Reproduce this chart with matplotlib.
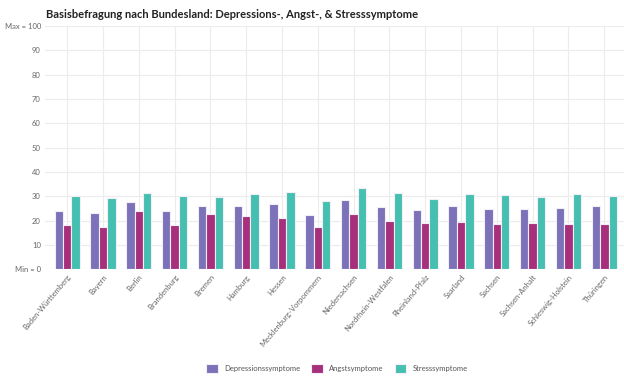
import matplotlib
matplotlib.use('Agg')
import matplotlib.pyplot as plt
import numpy as np

laender = ["Baden-Württemberg", "Bayern", "Berlin", "Brandenburg", "Bremen",
           "Hamburg", "Hessen", "Mecklenburg-Vorpommern", "Niedersachsen",
           "Nordrhein-Westfalen", "Rheinland-Pfalz", "Saarland", "Sachsen",
           "Sachsen-Anhalt", "Schleswig-Holstein", "Thüringen"]
depression = [24.1, 23.2, 27.8, 24.1, 26.1, 26.1, 26.7, 22.1, 28.3, 25.6,
              24.3, 26.1, 24.6, 24.6, 25.3, 26.1]
angst = [18.3, 17.5, 23.8, 18.3, 22.8, 21.9, 20.9, 17.2, 22.8, 19.8,
         18.8, 19.4, 18.4, 18.8, 18.4, 18.4]
stress = [30.1, 29.3, 31.5, 30.1, 29.6, 30.9, 31.9, 27.9, 33.3, 31.5,
          28.9, 30.9, 30.7, 29.6, 30.8, 30.1]
series = ["Depressionssymptome", "Angstsymptome", "Stresssymptome"]
colors = ["#7b72b9", "#a6307b", "#45bfb0"]
yticks = [0, 10, 20, 30, 40, 50, 60, 70, 80, 90, 100]
ylabels = ["Min = 0", "10", "20", "30", "40", "50", "60", "70", "80", "90", "Max = 100"]

plt.rcParams['font.family'] = ['Lato', 'DejaVu Sans']

fig = plt.figure(figsize=(6.24, 3.78), dpi=100)
ax = fig.add_axes([0.072, 0.288, 0.928, 0.643])

x = np.arange(len(laender))
w = 0.235
for i, (vals, name, c) in enumerate(zip([depression, angst, stress], series, colors)):
    ax.bar(x + (i - 1) * w, vals, width=w, color=c, edgecolor='#f2eef8',
           linewidth=0.8, label=name, zorder=3)

ax.set_ylim(0, 100)
ax.set_xlim(-0.62, 15.55)
ax.set_yticks(yticks)
ax.set_yticklabels(ylabels)
ax.set_xticks(x)
ax.set_xticklabels(laender, rotation=50, ha='right', rotation_mode='anchor')
ax.tick_params(axis='both', length=0, labelsize=5.5, colors='#666666', pad=3)
ax.grid(True, color='#ececec', linewidth=0.8, zorder=0)
for s in ax.spines.values():
    s.set_visible(False)

fig.text(0.074, 0.952, "Basisbefragung nach Bundesland: Depressions-, Angst-, & Stresssymptome",
         fontsize=8.0, fontweight='bold', color='#222222')

fig.legend(loc='lower center', bbox_to_anchor=(0.54, -0.005), ncol=3, frameon=False,
           fontsize=5.5, handlelength=1.5, handleheight=1.5, columnspacing=1.5,
           labelcolor='#555555')

fig.savefig('out.png', dpi=100)
